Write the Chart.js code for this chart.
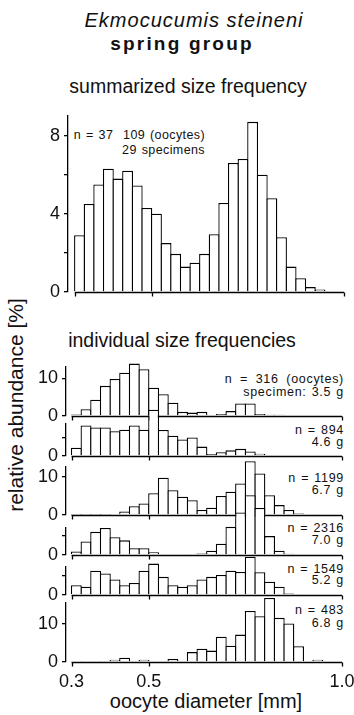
<!DOCTYPE html>
<html>
<head>
<meta charset="utf-8">
<title>Ekmocucumis steineni - oocyte size frequencies</title>
<script src="https://cdn.jsdelivr.net/npm/chart.js@4.4.1/dist/chart.umd.min.js"></script>
<style>
  html, body { margin: 0; padding: 0; background: #fff; }
  body { position: relative; width: 354px; height: 715px; overflow: hidden;
         font-family: "Liberation Sans", Arial, sans-serif; color: #111; }
  .txt { position: absolute; white-space: nowrap; line-height: 1; }
  .mid { transform: translateX(-50%); }
  .note { position: absolute; right: 10px; text-align: right; white-space: nowrap;
          font-size: 12.5px; line-height: 13px; letter-spacing: 0.7px; word-spacing: 1px; }
  canvas { position: absolute; left: 0; }
</style>
</head>
<body>
<div class="txt mid" style="left:194px; top:10px; font-size:20px; font-style:italic; letter-spacing:1px;">Ekmocucumis steineni</div>
<div class="txt mid" style="left:182px; top:34px; font-size:19px; font-weight:bold; letter-spacing:2.2px;">spring group</div>
<div class="txt mid" style="left:188px; top:77px; font-size:19.5px;">summarized size frequency</div>
<div class="note" style="right:149px; top:128px; line-height:14.5px; letter-spacing:0.4px;">n = 37&nbsp;&nbsp;109 (oocytes)<br>29 specimens</div>

<div class="txt mid" style="left:182px; top:331px; font-size:19.5px;">individual size frequencies</div>
<div class="note" style="top:373px;"><span style="word-spacing:3.5px;">n = 316 (oocytes)</span><br>specimen: 3.5 g</div>
<div class="note" style="top:424px; line-height:12px;">n = 894<br>4.6 g</div>
<div class="note" style="top:472px; line-height:12px;">n = 1199<br>6.7 g</div>
<div class="note" style="top:522px; line-height:12px;">n = 2316<br>7.0 g</div>
<div class="note" style="top:564px; line-height:11px;">n = 1549<br>5.2 g</div>
<div class="note" style="top:604px; line-height:13px;">n = 483<br>6.8 g</div>

<div class="txt" style="left:15px; top:405px; font-size:21px; transform:translate(-50%,-50%) rotate(-90deg);">relative abundance [%]</div>
<div class="txt mid" style="left:206px; top:691px; font-size:20px;">oocyte diameter [mm]</div>

<div id="charts"></div>

<script>
// bin centres, 0.025 mm classes from 0.3 to 1.0 mm
const diameters = [0.3125, 0.3375, 0.3625, 0.3875, 0.4125, 0.4375, 0.4625, 0.4875,
                   0.5125, 0.5375, 0.5625, 0.5875, 0.6125, 0.6375, 0.6625, 0.6875,
                   0.7125, 0.7375, 0.7625, 0.7875, 0.8125, 0.8375, 0.8625, 0.8875,
                   0.9125, 0.9375, 0.9625, 0.9875];
const xTicks = [0.3, 0.5, 1.0];

// relative abundance [%] per class
const summarized = [2.9, 4.5, 5.5, 6.3, 5.8, 6.2, 5.45, 4.3, 4.0, 2.5, 1.95, 1.3, 1.5, 1.95,
                    2.95, 4.55, 6.6, 6.8, 8.7, 6.0, 4.8, 2.8, 1.3, 0.7, 0.25, 0.13, 0, 0];
const spec316  = [0.4, 1.8, 4.3, 8.0, 9.8, 11.5, 13.9, 12.4, 7.5, 5.8, 3.5, 1.1, 0.9, 1.1,
                  0, 0.5, 1.3, 3.3, 3.3, 0.5, 0.3, 0.3, 0, 0, 0, 0, 0, 0];
const spec894  = [2.2, 8.1, 7.6, 7.6, 6.6, 7.0, 8.1, 7.0, 12.3, 6.9, 5.4, 4.4, 4.9, 2.5,
                  0.5, 1.0, 1.5, 1.9, 1.2, 0.6, 0.2, 0.2, 0, 0, 0, 0, 0, 0];
const spec1199 = [0.05, 0.05, 0.05, 0.05, 0.1, 0.9, 2.3, 3.0, 5.7, 9.8, 6.5, 4.8, 3.9, 1.3,
                  1.9, 5.0, 6.1, 8.3, 14.1, 10.9, 5.2, 2.6, 1.3, 0.4, 0.1, 0, 0, 0];
const spec2316 = [0.9, 3.5, 6.0, 7.0, 4.6, 3.8, 1.75, 1.75, 0.7, 0, 0, 0, 0.1, 0.4,
                  1.1, 2.9, 7.3, 11.0, 15.5, 12.2, 4.9, 1.1, 0.3, 0, 0, 0, 0, 0];
const spec1549 = [2.6, 2.2, 6.4, 5.7, 4.1, 2.6, 3.2, 6.4, 8.3, 4.8, 2.6, 2.2, 2.6, 4.1,
                  4.8, 5.3, 6.4, 6.1, 10.1, 6.0, 3.5, 2.2, 0.4, 0.1, 0, 0, 0, 0];
const spec483  = [0.1, 0.1, 0.1, 0.1, 0.6, 1.1, 0.1, 0.6, 0, 0, 0.8, 0, 2.6, 3.5,
                  3.0, 6.65, 4.3, 7.2, 13.4, 12.0, 16.8, 11.6, 10.1, 4.15, 0.2, 0.6, 0, 0];

const INK = '#000';
Chart.defaults.font.family = '"Liberation Sans", Arial, sans-serif';
Chart.defaults.color = '#111';

// diameter axis drawn only over the measured range, with small ticks
const diameterAxis = {
    id: 'diameterAxis',
    afterDraw(chart) {
        const x = chart.scales.x;
        const ctx = chart.ctx;
        const y = Math.round(chart.chartArea.bottom) + 0.5;
        ctx.save();
        ctx.strokeStyle = INK;
        ctx.lineWidth = 1.3;
        ctx.beginPath();
        ctx.moveTo(x.getPixelForValue(0.3), y);
        ctx.lineTo(x.getPixelForValue(1.0), y);
        xTicks.forEach(function (v) {
            const px = Math.round(x.getPixelForValue(v)) + 0.5;
            ctx.moveTo(px, y);
            ctx.lineTo(px, y + 4);
        });
        ctx.stroke();
        ctx.restore();
    }
};

function makePanel(cfg) {
    const padTop = 40;
    const areaH = cfg.yMax * cfg.ppu;
    const canvas = document.createElement('canvas');
    canvas.width = 354;
    canvas.height = Math.round(padTop + areaH + cfg.below);
    canvas.style.top = (cfg.zeroY - areaH - padTop) + 'px';
    document.getElementById('charts').appendChild(canvas);

    return new Chart(canvas, {
        type: 'bar',
        data: {
            datasets: [{
                data: cfg.values.map((v, i) => ({ x: diameters[i], y: v })),
                backgroundColor: '#fff',
                borderColor: INK,
                borderWidth: 1.3,
                barPercentage: 1.13,
                categoryPercentage: 1,
                clip: false
            }]
        },
        options: {
            responsive: false,
            animation: false,
            events: [],
            layout: {
                autoPadding: false,
                padding: { top: padTop, right: 354 - cfg.right, bottom: 0, left: 0 }
            },
            plugins: { legend: { display: false }, tooltip: { enabled: false } },
            scales: {
                x: {
                    type: 'linear',
                    min: cfg.xMin,
                    max: 1.0,
                    offset: false,
                    grid: { display: false, drawTicks: false },
                    border: { display: false },
                    afterBuildTicks: s => { s.ticks = xTicks.map(v => ({ value: v })); },
                    afterFit: s => {
                        s.height = cfg.below;
                        s.paddingLeft = 0;
                        s.paddingRight = 0;
                    },
                    ticks: {
                        display: !!cfg.xLabels,
                        font: { size: 18 },
                        padding: 9,
                        maxRotation: 0,
                        autoSkip: false,
                        callback: v => v.toFixed(1)
                    }
                },
                y: {
                    min: 0,
                    max: cfg.yMax,
                    afterBuildTicks: s => {
                        s.ticks = cfg.yTicks.filter(v => v <= cfg.yMax).map(v => ({ value: v }));
                    },
                    afterFit: s => {
                        s.width = cfg.left;
                        s.paddingTop = 0;
                        s.paddingBottom = 0;
                    },
                    grid: { drawOnChartArea: false, drawTicks: true, tickLength: 4, color: INK, lineWidth: 1.3 },
                    border: { display: true, color: INK, width: 1.3 },
                    ticks: {
                        font: { size: 18 },
                        padding: 4,
                        callback: v => cfg.yLabels.includes(v) ? String(v) : ''
                    }
                }
            }
        },
        plugins: [diameterAxis]
    });
}

const individual = { ppu: 3.8, left: 66, right: 342, xMin: 0.2857, yTicks: [0, 5, 10, 15], yLabels: [0, 10], below: 6 };

makePanel({ values: summarized, zeroY: 292, yMax: 9, ppu: 19.6, left: 68, right: 344, xMin: 0.2826,
            yTicks: [0, 2, 4, 6, 8], yLabels: [0, 4, 8], below: 6 });
makePanel(Object.assign({}, individual, { values: spec316,  zeroY: 416.5, yMax: 13 }));
makePanel(Object.assign({}, individual, { values: spec894,  zeroY: 456.5, yMax: 8.5 }));
makePanel(Object.assign({}, individual, { values: spec1199, zeroY: 514.5, yMax: 12.6 }));
makePanel(Object.assign({}, individual, { values: spec2316, zeroY: 554.5, yMax: 7 }));
makePanel(Object.assign({}, individual, { values: spec1549, zeroY: 595,   yMax: 7.4 }));
makePanel(Object.assign({}, individual, { values: spec483,  zeroY: 662,   yMax: 15.5, xLabels: true, below: 40 }));
</script>
</body>
</html>
